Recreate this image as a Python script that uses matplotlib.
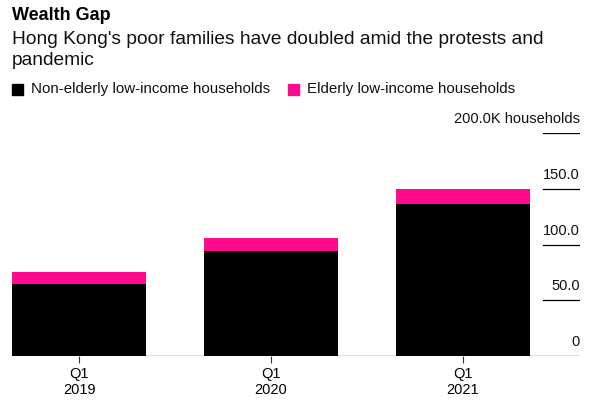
import numpy as np
import matplotlib
matplotlib.use('Agg')
import matplotlib.pyplot as plt
from matplotlib.patches import Rectangle

plt.rcParams['font.family'] = ['Liberation Sans', 'DejaVu Sans']

# Data (thousands of households)
quarters = ['Q1\n2019', 'Q1\n2020', 'Q1\n2021']
non_elderly = [65.0, 94.5, 136.0]
elderly = [10.5, 11.0, 14.0]
yticks = [0, 50, 100, 150, 200]
ytick_labels = ['0', '50.0', '100.0', '150.0', '200.0K households']

black = '#000000'
pink = '#ff0a8c'

fig = plt.figure(figsize=(5.9, 4.03), dpi=100)
ax = fig.add_axes([12 / 590, 1 - 356 / 403, 568 / 590, 223 / 403])

x = np.arange(len(quarters))
ax.bar(x, non_elderly, width=0.7, color=black, zorder=2)
ax.bar(x, elderly, width=0.7, bottom=non_elderly, color=pink, zorder=2)

ax.set_xlim(-0.35, 2.61)
ax.set_ylim(0, 200)

for s in ax.spines.values():
    s.set_visible(False)
ax.set_yticks([])
ax.set_xticks(x)
ax.set_xticklabels(quarters, fontsize=10.5, linespacing=1.15)
ax.tick_params(axis='x', length=5, width=0.8, color='#333333', pad=3)

# baseline
ax.axhline(0, color='black', lw=0.9, zorder=3)

# right side tick segments and labels
for v, lab in zip(yticks, ytick_labels):
    if v > 0:
        ax.axhline(v, xmin=0.935, xmax=1.0, color='black', lw=0.9)
    ax.annotate(lab, xy=(1.0, v), xycoords=('axes fraction', 'data'),
                xytext=(0, 5), textcoords='offset points',
                ha='right', va='bottom', fontsize=10.5, color='#111111')

# header
fig.text(12 / 590, 1 - 15 / 403, 'Wealth Gap', fontsize=13, fontweight='bold',
         va='center', ha='left')
fig.text(12 / 590, 1 - 50 / 403,
         "Hong Kong's poor families have doubled amid the protests and\npandemic",
         fontsize=13.8, va='center', ha='left', linespacing=1.38, color='#111111')

# legend
for px, label, c in [(12, 'Non-elderly low-income households', black),
                     (288, 'Elderly low-income households', pink)]:
    fig.patches.append(Rectangle((px / 590, 1 - 95 / 403), 11 / 590, 11 / 403,
                                 transform=fig.transFigure, color=c))
    fig.text((px + 19) / 590, 1 - 89 / 403, label, fontsize=10.9,
             va='center', ha='left', color='#111111')

fig.savefig('out.png', dpi=100)
